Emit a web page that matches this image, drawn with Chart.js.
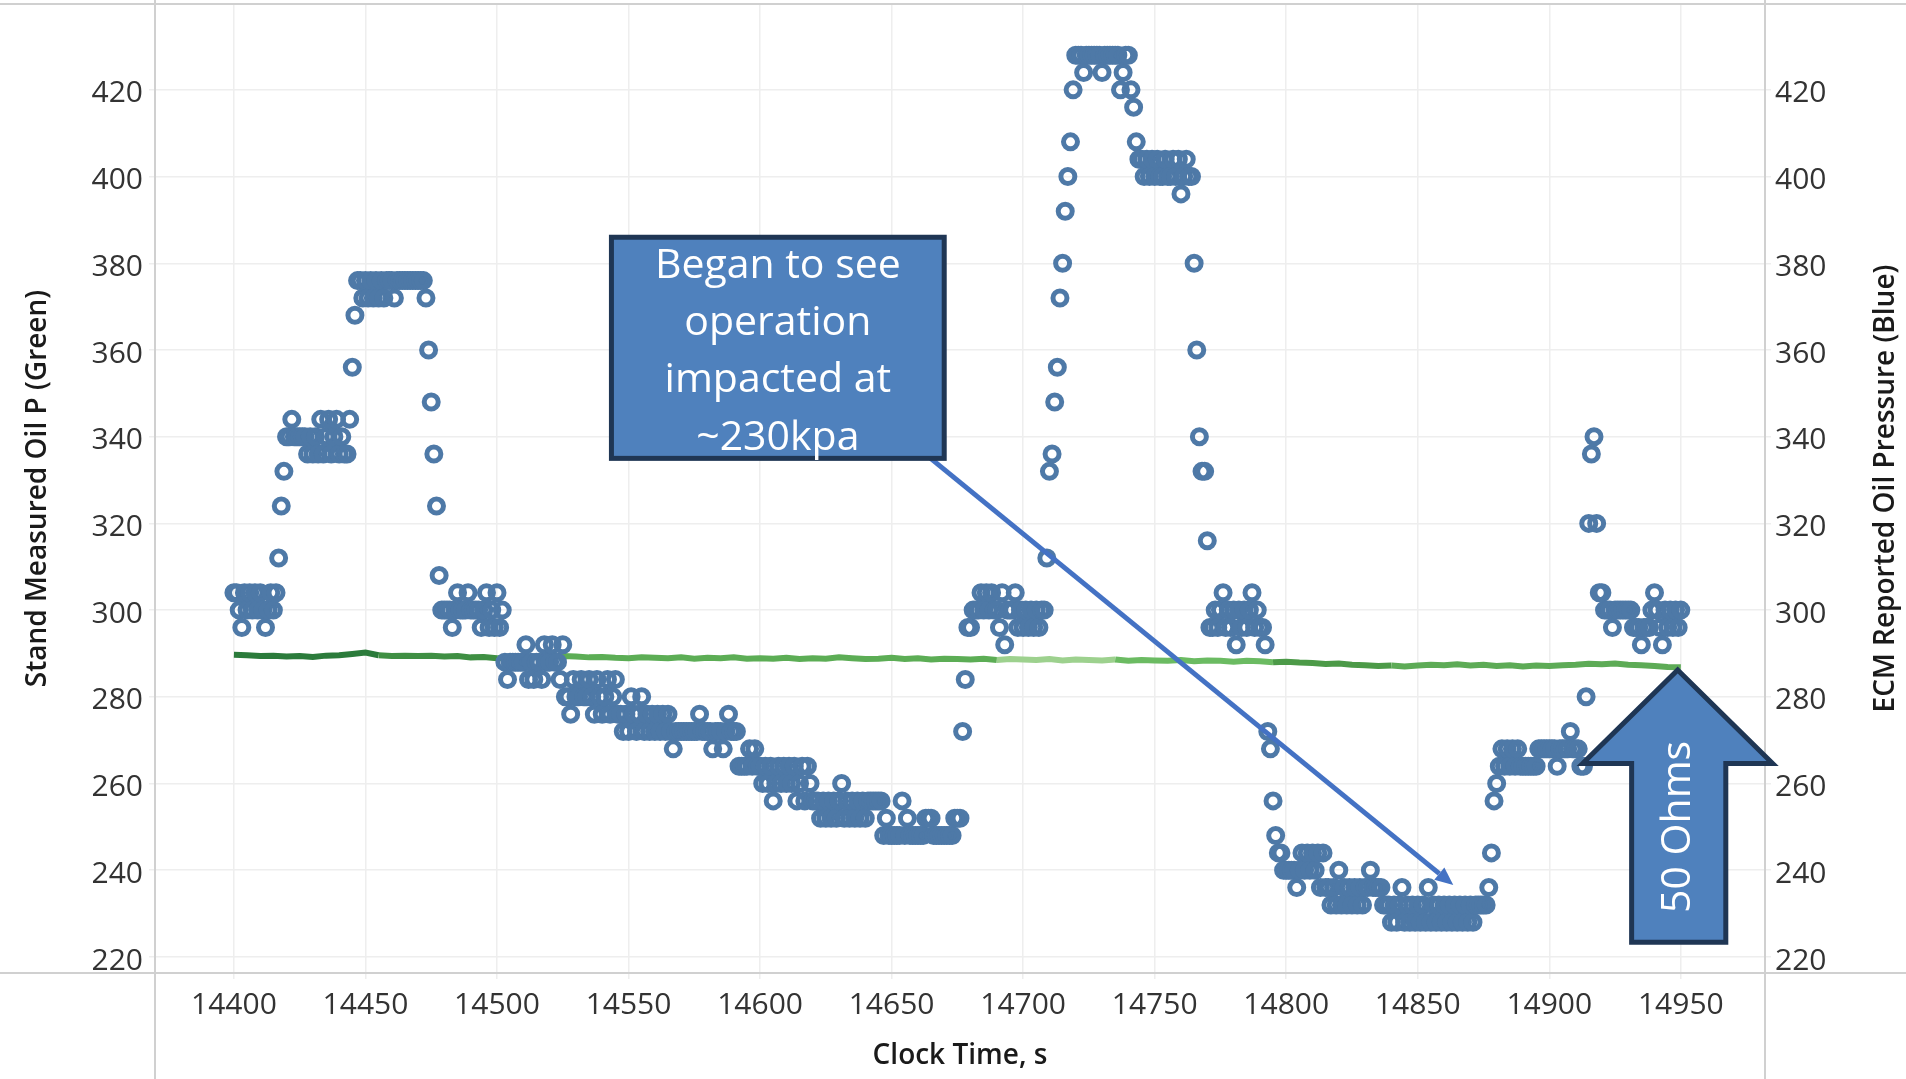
<!DOCTYPE html>
<html>
<head>
<meta charset="utf-8">
<title>Oil pressure</title>
<script src="https://cdn.jsdelivr.net/npm/chart.js@4.4.0/dist/chart.umd.min.js"></script>
<style>
  html, body { margin: 0; padding: 0; background: #fff; }
  #wrap { width: 1906px; height: 1079px; }
</style>
</head>
<body>
<div id="wrap"><canvas id="grafico" width="1906" height="1079"></canvas></div>
<script>
// Tiempo (s) y ejes
const clockStart = 14400;          // primera muestra, 1 Hz para la ECM
const standStep = 5;
const clockTicks = [14400, 14450, 14500, 14550, 14600, 14650, 14700, 14750, 14800, 14850, 14900, 14950];
const kpaTicks = [220, 240, 260, 280, 300, 320, 340, 360, 380, 400, 420];
const clockRange = [14370, 14982];
const kpaRange = [216.3, 439.8];

// Presion medida en el banco (verde), una muestra cada 5 s desde 14400
const standKpa = [
  289.7, 289.6, 289.4, 289.5, 289.3, 289.4, 289.2, 289.5, 289.6, 289.9, 290.2,
  289.6, 289.4, 289.5, 289.4, 289.5, 289.3, 289.4, 289.1, 289.2, 288.9,
  289.0, 289.1, 289.3, 289.2, 289.4, 289.3, 289.1, 289.2, 289.0, 288.9,
  289.1, 289.0, 288.9, 289.1, 288.8, 289.0, 288.9, 289.1, 288.8, 288.9,
  288.8, 289.0, 288.7, 288.9, 288.8, 289.1, 288.9, 288.7, 288.8, 289.0,
  288.7, 288.9, 288.6, 288.8, 288.7, 288.6, 288.8, 288.5, 288.7, 288.6,
  288.5, 288.7, 288.4, 288.6, 288.5, 288.4, 288.6, 288.3, 288.5, 288.4,
  288.3, 288.5, 288.2, 288.4, 288.3, 288.1, 288.3, 288.2, 288.0, 288.1,
  287.9, 287.8, 287.6, 287.7, 287.4, 287.3, 287.1, 287.2, 287.0, 287.2,
  287.4, 287.3, 287.5, 287.2, 287.4, 287.1, 287.3, 287.0, 287.2, 287.1,
  287.3, 287.4, 287.6, 287.5, 287.7, 287.4, 287.3, 287.1, 286.9, 286.8
];

// Presion reportada por la ECM (azul), una muestra por segundo desde 14400
const ecmKpa = [
  304, 304, 300, 296, 304, 300, 304, 300, 304, 300,
  304, 300, 296, 300, 304, 300, 304, 312, 324, 332,
  340, 340, 344, 340, 340, 340, 340, 340, 336, 340,
  336, 340, 336, 344, 336, 340, 344, 336, 340, 344,
  336, 340, 336, 336, 344, 356, 368, 376, 376, 372,
  376, 372, 376, 372, 376, 372, 376, 372, 376, 376,
  376, 372, 376, 376, 376, 376, 376, 376, 376, 376,
  376, 376, 376, 372, 360, 348, 336, 324, 308, 300,
  300, 300, 300, 296, 300, 304, 300, 300, 300, 304,
  300, 300, 300, 300, 296, 300, 304, 296, 300, 296,
  304, 296, 300, 288, 284, 288, 288, 288, 288, 288,
  288, 292, 284, 288, 284, 288, 288, 284, 292, 288,
  288, 292, 288, 288, 284, 292, 280, 280, 276, 284,
  280, 280, 284, 280, 280, 284, 280, 276, 284, 280,
  276, 280, 284, 276, 280, 284, 276, 276, 272, 276,
  272, 280, 276, 272, 276, 280, 272, 276, 272, 276,
  272, 276, 272, 276, 272, 276, 272, 268, 272, 272,
  272, 272, 272, 272, 272, 272, 272, 276, 272, 272,
  272, 272, 268, 272, 272, 272, 268, 272, 276, 272,
  272, 272, 264, 264, 264, 264, 268, 264, 268, 264,
  264, 260, 264, 260, 264, 256, 260, 264, 260, 264,
  260, 264, 260, 264, 256, 260, 264, 256, 264, 260,
  256, 256, 256, 252, 256, 252, 256, 252, 256, 252,
  256, 260, 252, 256, 252, 256, 252, 256, 252, 256,
  252, 256, 256, 256, 256, 256, 256, 248, 252, 248,
  248, 248, 248, 248, 256, 248, 252, 248, 248, 248,
  248, 248, 248, 252, 252, 252, 248, 248, 248, 248,
  248, 248, 248, 248, 252, 252, 252, 272, 284, 296,
  296, 300, 300, 300, 304, 300, 304, 300, 304, 300,
  300, 296, 304, 292, 300, 300, 300, 304, 296, 300,
  296, 300, 296, 300, 296, 300, 296, 300, 300, 312,
  332, 336, 348, 356, 372, 380, 392, 400, 408, 420,
  428, 428, 428, 424, 428, 428, 428, 428, 428, 428,
  424, 428, 428, 428, 428, 428, 428, 420, 424, 428,
  428, 420, 416, 408, 404, 404, 400, 404, 400, 404,
  400, 404, 400, 400, 404, 400, 400, 404, 400, 404,
  396, 400, 404, 400, 400, 380, 360, 340, 332, 332,
  316, 296, 296, 300, 296, 300, 304, 296, 300, 296,
  300, 292, 300, 296, 300, 296, 300, 304, 296, 300,
  296, 296, 292, 272, 268, 256, 248, 244, 244, 240,
  240, 240, 240, 240, 236, 240, 244, 240, 244, 240,
  244, 240, 244, 236, 244, 236, 236, 232, 236, 232,
  240, 232, 236, 232, 236, 232, 236, 232, 236, 232,
  236, 236, 240, 236, 236, 236, 236, 232, 232, 232,
  228, 232, 228, 232, 236, 228, 232, 228, 232, 228,
  232, 228, 232, 228, 236, 228, 232, 228, 232, 228,
  232, 228, 232, 228, 232, 228, 232, 228, 232, 228,
  232, 228, 232, 232, 232, 232, 232, 236, 244, 256,
  260, 264, 268, 264, 268, 264, 268, 264, 268, 264,
  264, 264, 264, 264, 264, 264, 268, 268, 268, 268,
  268, 268, 268, 264, 268, 268, 268, 268, 272, 268,
  268, 268, 264, 264, 280, 320, 336, 340, 320, 304,
  304, 300, 300, 300, 296, 300, 300, 300, 300, 300,
  300, 300, 296, 296, 296, 292, 296, 296, 296, 300,
  304, 300, 296, 292, 300, 296, 300, 296, 300, 296,
  300
];

const fuente = "'Open Sans', sans-serif";
const azulEcm = '#4e79a7';

// Tono del trazo verde segun el tramo de tiempo (como en el original)
function tonoVerde(x) {
  if (x < 14452) return '#2b7b3b';
  if (x < 14500) return '#3f8f43';
  if (x < 14690) return '#5cad55';
  if (x < 14735) return '#9dd18e';
  if (x < 14795) return '#6bbb62';
  if (x < 14840) return '#4c9a48';
  return '#5dab56';
}

const ecmPoints = ecmKpa.map((v, i) => ({ x: clockStart + i, y: v }));
const standPoints = standKpa.map((v, i) => ({ x: clockStart + i * standStep, y: v }));

// Marco tipo Tableau: lineas del panel que cruzan todo el lienzo
const marcoPlugin = {
  id: 'marco',
  beforeDatasetsDraw(chart) {
    const { ctx, chartArea: a, width, height } = chart;
    ctx.save();
    ctx.strokeStyle = '#d0d0d0';
    ctx.lineWidth = 2;
    ctx.beginPath();
    ctx.moveTo(0, a.top); ctx.lineTo(width, a.top);
    ctx.moveTo(0, a.bottom); ctx.lineTo(width, a.bottom);
    ctx.moveTo(a.left, 0); ctx.lineTo(a.left, height);
    ctx.moveTo(a.right, 0); ctx.lineTo(a.right, height);
    ctx.stroke();
    ctx.restore();
  }
};

// Anotaciones: cuadro de texto, flecha y flecha de bloque "50 Ohms"
const anotacionesPlugin = {
  id: 'anotaciones',
  afterDraw(chart) {
    const { ctx, chartArea: a } = chart;
    const px = v => chart.scales.x.getPixelForValue(v);
    const py = v => chart.scales.y.getPixelForValue(v);

    ctx.save();

    // flecha desde el cuadro hasta el minimo
    const x0 = px(14664.6), y0 = py(335.1);
    const x1 = px(14863.5), y1 = py(236.6);
    const ang = Math.atan2(y1 - y0, x1 - x0);
    const largo = 18, media = 8;
    const bx = x1 - largo * Math.cos(ang), by = y1 - largo * Math.sin(ang);
    ctx.strokeStyle = '#4472c4';
    ctx.fillStyle = '#4472c4';
    ctx.lineWidth = 5;
    ctx.beginPath();
    ctx.moveTo(x0, y0);
    ctx.lineTo(bx, by);
    ctx.stroke();
    ctx.beginPath();
    ctx.moveTo(x1, y1);
    ctx.lineTo(bx + media * Math.sin(ang), by - media * Math.cos(ang));
    ctx.lineTo(bx - media * Math.sin(ang), by + media * Math.cos(ang));
    ctx.closePath();
    ctx.fill();

    // cuadro de texto
    const l = px(14543.5), r = px(14670), t = py(386), b = py(335);
    ctx.fillStyle = '#4f81bd';
    ctx.fillRect(l, t, r - l, b - t);
    ctx.strokeStyle = '#1f3654';
    ctx.lineWidth = 5;
    ctx.strokeRect(l, t, r - l, b - t);
    const lineas = ['Began to see', 'operation', 'impacted at', '~230kpa'];
    ctx.fillStyle = '#ffffff';
    ctx.font = '41px ' + fuente;
    ctx.textAlign = 'center';
    ctx.textBaseline = 'alphabetic';
    const cx = (l + r) / 2, cy = (t + b) / 2;
    lineas.forEach((txt, i) => {
      ctx.fillText(txt, cx, cy + 16 + (i - 1.5) * 57.3);
    });

    // flecha de bloque hacia arriba
    const punta = [14948.8, 286.2];
    const ala = 264.6, pie = 223.4;
    const poly = [
      [punta[0], punta[1]],
      [14984.9, ala], [14967.1, ala], [14967.1, pie],
      [14931.3, pie], [14931.3, ala], [14912.7, ala]
    ];
    ctx.beginPath();
    poly.forEach(([vx, vy], i) => {
      if (i === 0) ctx.moveTo(px(vx), py(vy));
      else ctx.lineTo(px(vx), py(vy));
    });
    ctx.closePath();
    ctx.fillStyle = '#4f81bd';
    ctx.fill();
    ctx.lineJoin = 'miter';
    ctx.strokeStyle = '#1f3654';
    ctx.lineWidth = 5;
    ctx.stroke();

    ctx.save();
    ctx.translate(px(14948.9), py(250));
    ctx.rotate(-Math.PI / 2);
    ctx.fillStyle = '#ffffff';
    ctx.font = '41px ' + fuente;
    ctx.textAlign = 'center';
    ctx.textBaseline = 'middle';
    ctx.fillText('50 Ohms', 0, 0);
    ctx.restore();

    // titulo del eje derecho (se lee de abajo hacia arriba)
    ctx.translate(a.right + 121, (a.top + a.bottom) / 2);
    ctx.rotate(-Math.PI / 2);
    ctx.fillStyle = '#1a1a1a';
    ctx.font = '600 28px ' + fuente;
    ctx.textAlign = 'center';
    ctx.textBaseline = 'middle';
    ctx.fillText('ECM Reported Oil Pressure (Blue)', 0, 0);

    ctx.restore();
  }
};

const fijarTicks = lista => scale => { scale.ticks = lista.map(v => ({ value: v })); };
const sinComas = v => String(v);

const ctx = document.getElementById('grafico').getContext('2d');
const grafico = new Chart(ctx, {
  type: 'scatter',
  data: {
    datasets: [
      {
        label: 'ECM Reported Oil Pressure',
        data: ecmPoints,
        yAxisID: 'y1',
        showLine: false,
        pointStyle: 'circle',
        pointRadius: 7,
        pointBorderWidth: 5,
        pointBorderColor: azulEcm,
        pointBackgroundColor: 'rgba(0,0,0,0)',
        order: 1
      },
      {
        label: 'Stand Measured Oil P',
        data: standPoints,
        yAxisID: 'y',
        showLine: true,
        borderWidth: 6,
        borderColor: '#5cad55',
        pointRadius: 0,
        tension: 0,
        segment: {
          borderColor: c => tonoVerde(c.p0.parsed.x)
        },
        order: 2
      }
    ]
  },
  options: {
    responsive: false,
    animation: false,
    devicePixelRatio: 1,
    events: [],
    layout: { autoPadding: false, padding: { top: 4, left: 0, right: 0, bottom: 0 } },
    plugins: {
      legend: { display: false },
      tooltip: { enabled: false }
    },
    scales: {
      x: {
        type: 'linear',
        min: clockRange[0],
        max: clockRange[1],
        afterBuildTicks: fijarTicks(clockTicks),
        afterFit: s => { s.height = 106; s.paddingLeft = 0; s.paddingRight = 0; },
        border: { display: false },
        grid: { color: '#eeeeee', lineWidth: 1.5, tickLength: 6, drawTicks: true },
        ticks: { font: { family: fuente, size: 30 }, color: '#333333', padding: 8, maxRotation: 0, autoSkip: false, callback: sinComas },
        title: {
          display: true,
          text: 'Clock Time, s',
          color: '#1a1a1a',
          font: { family: fuente, size: 28, weight: '600' },
          padding: { top: 0, bottom: 6 }
        }
      },
      y: {
        type: 'linear',
        position: 'left',
        min: kpaRange[0],
        max: kpaRange[1],
        afterBuildTicks: fijarTicks(kpaTicks),
        afterFit: s => { s.width = 155; s.paddingTop = 0; s.paddingBottom = 0; },
        border: { display: false },
        grid: { color: '#eeeeee', lineWidth: 1.5, tickLength: 6, drawTicks: true },
        ticks: { font: { family: fuente, size: 30 }, color: '#333333', padding: 6, labelOffset: 4, callback: sinComas },
        title: {
          display: true,
          text: 'Stand Measured Oil P (Green)',
          color: '#1a1a1a',
          font: { family: fuente, size: 28, weight: '600' },
          padding: { top: 21, bottom: 0 }
        }
      },
      y1: {
        type: 'linear',
        position: 'right',
        min: kpaRange[0],
        max: kpaRange[1],
        afterBuildTicks: fijarTicks(kpaTicks),
        afterFit: s => { s.width = 141; s.paddingTop = 0; s.paddingBottom = 0; },
        border: { display: false },
        grid: { drawOnChartArea: false, color: '#eeeeee', lineWidth: 1.5, tickLength: 6, drawTicks: true },
        ticks: { font: { family: fuente, size: 30 }, color: '#333333', padding: 4, labelOffset: 4, callback: sinComas }
      }
    }
  },
  plugins: [marcoPlugin, anotacionesPlugin]
});
</script>
</body>
</html>
